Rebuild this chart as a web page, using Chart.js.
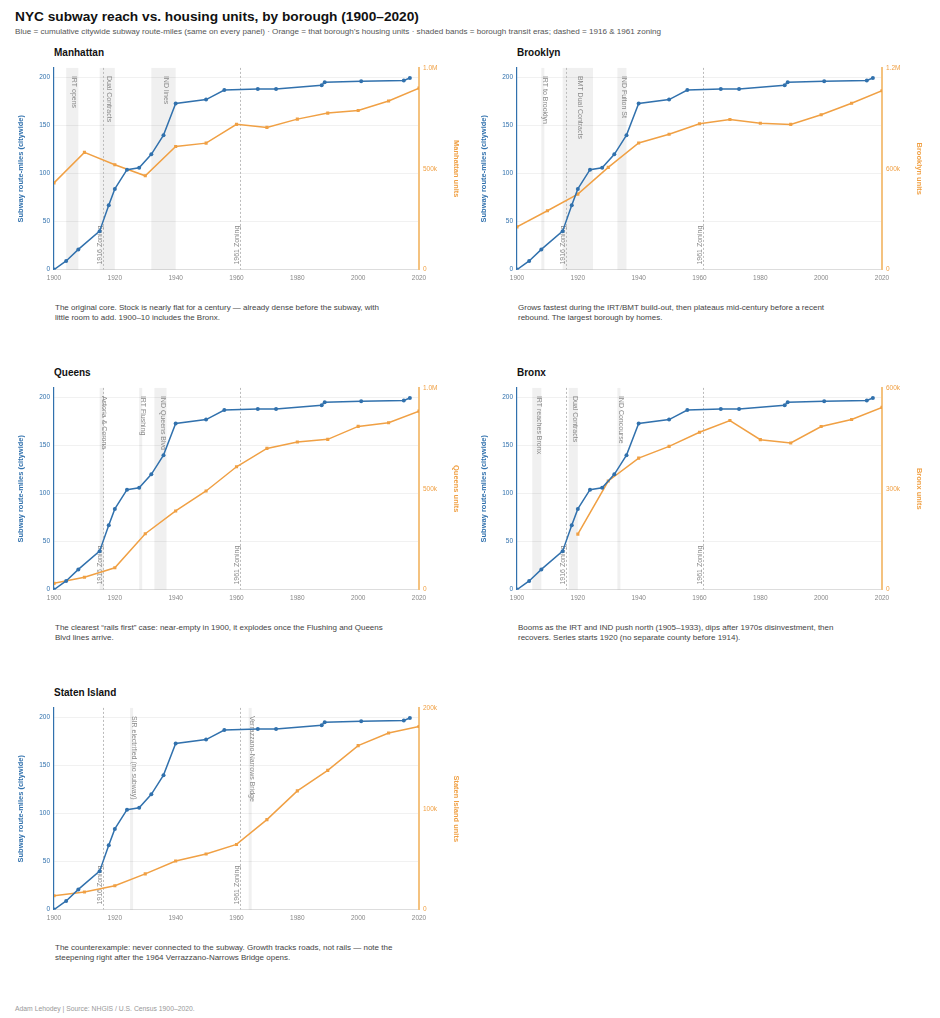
<!DOCTYPE html>
<html>
<head>
<meta charset="utf-8">
<title>NYC subway reach vs. housing units</title>
<script src="https://cdn.jsdelivr.net/npm/chart.js@4.4.1/dist/chart.umd.min.js"></script>
<style>
  body { margin: 0; background: #fff; font-family: "Liberation Sans", Arial, Helvetica, sans-serif; width: 940px; height: 1018px; position: relative; overflow: hidden; }
  .abs { position: absolute; white-space: nowrap; }
  #title { left: 15px; top: 10.1px; font-size: 13.7px; line-height: 13.7px; font-weight: bold; color: #111; }
  #subtitle { left: 15px; top: 28.2px; font-size: 8.1px; line-height: 8.1px; color: #555; }
  .ptitle { font-size: 10px; line-height: 10px; font-weight: bold; color: #111; }
  .note { font-size: 8px; line-height: 10.5px; color: #444; }
  #footer { left: 15px; top: 1005.5px; font-size: 6.8px; line-height: 6.8px; color: #999; }
</style>
</head>
<body>
<div id="title" class="abs">NYC subway reach vs. housing units, by borough (1900–2020)</div>
<div id="subtitle" class="abs">Blue = cumulative citywide subway route-miles (same on every panel) · Orange = that borough’s housing units · shaded bands = borough transit eras; dashed = 1916 &amp; 1961 zoning</div>
<div id="footer" class="abs">Adam Lehodey | Source: NHGIS / U.S. Census 1900–2020.</div>

<script>
// citywide subway route-miles (same line on every panel)
const subwayYears = [1900, 1904, 1908, 1915, 1918, 1920, 1924, 1928, 1932, 1936, 1940, 1950, 1956, 1967, 1973, 1988, 1989, 2001, 2015, 2017];
const subwayMiles = [0, 9, 21, 40, 67, 84, 104, 106, 120, 140, 173, 177, 187, 188, 188, 192, 195, 196, 197, 199.5];

// census housing units by borough
const censusYears = [1900, 1910, 1920, 1930, 1940, 1950, 1960, 1970, 1980, 1990, 2000, 2010, 2020];
const manhattanUnits = [430000, 581000, 520000, 465000, 610000, 627000, 720000, 705000, 746000, 776000, 789000, 836000, 900000];
const brooklynUnits = [254000, 350000, 449000, 608000, 753000, 805000, 868000, 893000, 871000, 864000, 921000, 990000, 1064000];
const queensUnits = [31000, 61000, 108000, 277000, 390000, 489000, 609000, 700000, 732000, 745000, 809000, 827000, 885000];
const bronxUnits = [null, null, 165000, 323000, 391000, 426000, 468000, 503000, 446000, 436000, 485000, 506000, 542000];
const statenUnits = [13800, 17400, 23600, 35400, 48200, 55100, 64600, 89200, 117700, 138000, 162600, 175100, 181600];

// right axis tops
const unitMax = { Manhattan: 1000000, Brooklyn: 1200000, Queens: 1000000, Bronx: 600000, 'Staten Island': 200000 };

// transit eras: [start, end, label]
const manhattanEras = [[1904, 1908, 'IRT opens'], [1915, 1920, 'Dual Contracts'], [1932, 1940, 'IND lines']];
const brooklynEras = [[1908, 1909, 'IRT to Brooklyn'], [1915, 1925, 'BMT Dual Contracts'], [1933, 1936, 'IND Fulton St']];
const queensEras = [[1915, 1916.4, 'Astoria & Corona'], [1928, 1929, 'IRT Flushing'], [1933, 1937, 'IND Queens Blvd']];
const bronxEras = [[1905, 1908, 'IRT reaches Bronx'], [1917, 1920, 'Dual Contracts'], [1933, 1934, 'IND Concourse']];
const statenEras = [[1925, 1926, 'SIR electrified (no subway)'], [1964, 1965, 'Verrazzano-Narrows Bridge']];

const zoningYears = [1916, 1961];
const zoningLabels = ['1916 Zoning', '1961 Zoning'];

const notes = {
  Manhattan: 'The original core. Stock is nearly flat for a century — already dense before the subway, with<br>little room to add. 1900–10 includes the Bronx.',
  Brooklyn: 'Grows fastest during the IRT/BMT build-out, then plateaus mid-century before a recent<br>rebound. The largest borough by homes.',
  Queens: 'The clearest “rails first” case: near-empty in 1900, it explodes once the Flushing and Queens<br>Blvd lines arrive.',
  Bronx: 'Booms as the IRT and IND push north (1905–1933), dips after 1970s disinvestment, then<br>recovers. Series starts 1920 (no separate county before 1914).',
  'Staten Island': 'The counterexample: never connected to the subway. Growth tracks roads, not rails — note the<br>steepening right after the 1964 Verrazzano-Narrows Bridge opens.'
};

const BLUE = '#3171ad';
const ORANGE = '#f0a044';

Chart.defaults.font.family = '"Liberation Sans", Arial, Helvetica, sans-serif';

// shaded eras + dashed zoning lines, drawn under the data
const erasPlugin = {
  id: 'eras',
  beforeDatasetsDraw(chart, args, opts) {
    const ctx = chart.ctx;
    const x = chart.scales.x;
    const area = chart.chartArea;
    ctx.save();
    (opts.bands || []).forEach(b => {
      const x0 = x.getPixelForValue(b[0]);
      const x1 = x.getPixelForValue(b[1]);
      ctx.fillStyle = 'rgba(0,0,0,0.06)';
      ctx.fillRect(x0, area.top, x1 - x0, area.bottom - area.top);
    });
    zoningYears.forEach(yr => {
      const px = Math.round(x.getPixelForValue(yr)) + 0.5;
      ctx.strokeStyle = '#bbb';
      ctx.lineWidth = 1;
      ctx.setLineDash([2, 2]);
      ctx.beginPath();
      ctx.moveTo(px, area.top);
      ctx.lineTo(px, area.bottom);
      ctx.stroke();
    });
    ctx.setLineDash([]);
    ctx.font = '7px "Liberation Sans", Arial, sans-serif';
    ctx.fillStyle = '#888';
    ctx.textBaseline = 'middle';
    ctx.textAlign = 'left';
    (opts.bands || []).forEach(b => {
      const xm = (x.getPixelForValue(b[0]) + x.getPixelForValue(b[1])) / 2 + 2;
      ctx.save();
      ctx.translate(xm, area.top + 8);
      ctx.rotate(Math.PI / 2);
      ctx.fillText(b[2], 0, 0);
      ctx.restore();
    });
    zoningYears.forEach((yr, i) => {
      ctx.save();
      ctx.translate(x.getPixelForValue(yr) - 2.5, area.bottom - 5);
      ctx.rotate(-Math.PI / 2);
      ctx.fillText(zoningLabels[i], 0, 0);
      ctx.restore();
    });
    ctx.restore();
  }
};

function fmtUnits(v) {
  if (v === 0) return '0';
  if (v >= 1000000) return (v / 1000000).toFixed(1) + 'M';
  return Math.round(v / 1000) + 'k';
}

function makePanel(name, units, eras, col, row) {
  const left = col * 463;
  const top = row * 320;

  const t = document.createElement('div');
  t.className = 'abs ptitle';
  t.style.left = (left + 54) + 'px';
  t.style.top = (top + 48.2) + 'px';
  t.textContent = name;
  document.body.appendChild(t);

  const c = document.createElement('canvas');
  c.width = 460;
  c.height = 230;
  c.style.position = 'absolute';
  c.style.left = (left + 10) + 'px';
  c.style.top = (top + 60) + 'px';
  c.style.width = '460px';
  c.style.height = '230px';
  document.body.appendChild(c);

  const n = document.createElement('div');
  n.className = 'abs note';
  n.style.left = (left + 55) + 'px';
  n.style.top = (top + 302.5) + 'px';
  n.innerHTML = notes[name];
  document.body.appendChild(n);

  const rmax = unitMax[name];

  new Chart(c, {
    type: 'line',
    data: {
      datasets: [
        {
          label: 'Subway route-miles',
          data: subwayYears.map((yr, i) => ({ x: yr, y: subwayMiles[i] })),
          yAxisID: 'y',
          borderColor: BLUE,
          backgroundColor: BLUE,
          borderWidth: 1.5,
          pointStyle: 'circle',
          pointRadius: 2,
          pointBorderWidth: 0,
          pointBackgroundColor: BLUE,
          tension: 0
        },
        {
          label: name + ' units',
          data: censusYears.map((yr, i) => ({ x: yr, y: units[i] })),
          yAxisID: 'y1',
          borderColor: ORANGE,
          backgroundColor: ORANGE,
          borderWidth: 1.5,
          pointStyle: 'rect',
          pointRadius: 2.2,
          pointBorderWidth: 0,
          pointBackgroundColor: ORANGE,
          tension: 0
        }
      ]
    },
    options: {
      responsive: false,
      animation: false,
      devicePixelRatio: window.devicePixelRatio || 1,
      layout: { padding: { top: 6, left: 0, right: 0, bottom: 0 } },
      plugins: {
        legend: { display: false },
        tooltip: { enabled: false },
        eras: { bands: eras }
      },
      scales: {
        x: {
          type: 'linear',
          min: 1900,
          max: 2020,
          ticks: { stepSize: 20, callback: v => String(v), color: '#888', font: { size: 6.5 }, maxRotation: 0, padding: 5 },
          grid: { display: false, drawTicks: false },
          border: { color: '#ddd', width: 1 },
          afterFit: s => { s.height = 20.4; }
        },
        y: {
          position: 'left',
          min: 0,
          max: 210,
          ticks: { stepSize: 50, includeBounds: false, color: BLUE, font: { size: 6.5 }, padding: 4 },
          grid: { color: '#f1f1f1', drawTicks: false },
          border: { color: BLUE, width: 1.2 },
          title: { display: true, text: 'Subway route-miles (citywide)', color: BLUE, font: { size: 7.5, weight: 'bold' }, padding: { top: 6.5, bottom: 0 } },
          afterFit: s => { s.width = 44; }
        },
        y1: {
          position: 'right',
          min: 0,
          max: rmax,
          ticks: { stepSize: rmax / 2, includeBounds: false, callback: fmtUnits, color: ORANGE, font: { size: 6.5 }, padding: 4 },
          grid: { display: false, drawTicks: false },
          border: { color: '#f4c27f', width: 2 },
          title: { display: true, text: name + ' units', color: ORANGE, font: { size: 7.5, weight: 'bold' }, padding: { top: 9.8, bottom: 0 } },
          afterFit: s => { s.width = 51; }
        }
      }
    },
    plugins: [erasPlugin]
  });
}

makePanel('Manhattan', manhattanUnits, manhattanEras, 0, 0);
makePanel('Brooklyn', brooklynUnits, brooklynEras, 1, 0);
makePanel('Queens', queensUnits, queensEras, 0, 1);
makePanel('Bronx', bronxUnits, bronxEras, 1, 1);
makePanel('Staten Island', statenUnits, statenEras, 0, 2);
</script>
</body>
</html>
